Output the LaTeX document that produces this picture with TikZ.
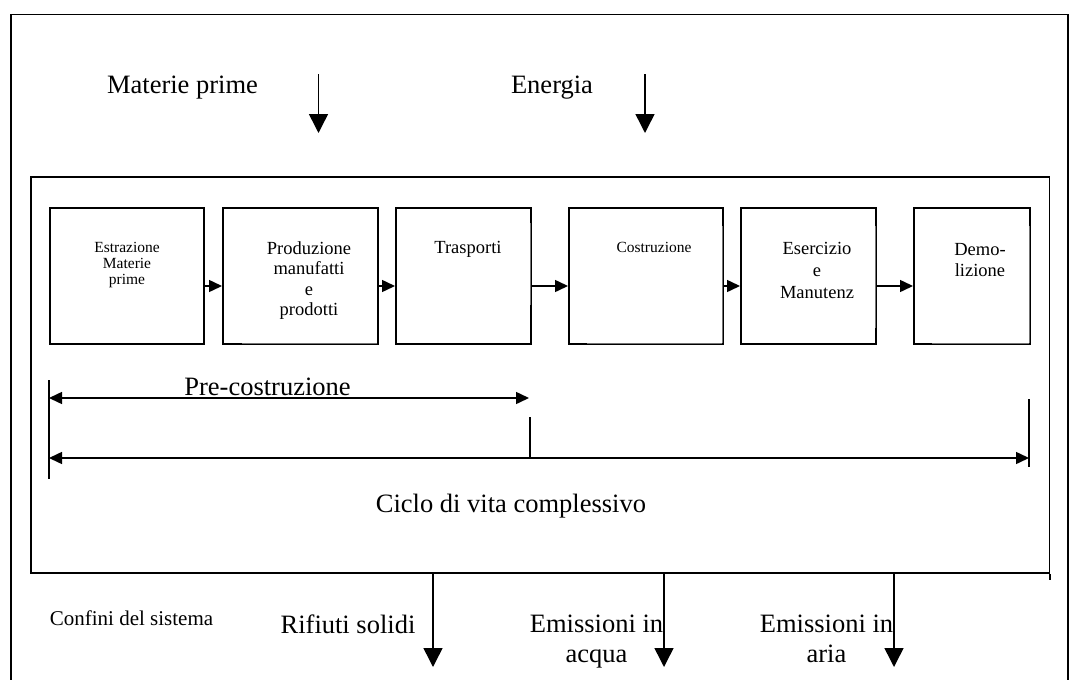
\documentclass[tikz,border=0pt]{standalone}
\usepackage{fontspec}
\setmainfont{Liberation Serif}
\usetikzlibrary{arrows.meta,calc}
\begin{document}
\begin{tikzpicture}[x=1pt,y=-1pt,
  big/.style={font=\fontsize{26.5}{30}\selectfont, inner sep=0pt, align=center},
  mid/.style={font=\fontsize{18.5}{20.5}\selectfont, inner sep=0pt, align=center, anchor=north},
  sml/.style={font=\fontsize{15.5}{16}\selectfont, inner sep=0pt, align=center, anchor=north},
  frame/.style={line width=1.8pt},
  procbox/.style={draw, line width=2pt, inner sep=0pt, anchor=north west, minimum height=136pt},
  erase/.style={draw=white, line width=2.6pt},
  faint/.style={draw=black!55, line width=0.6pt},
  flow/.style={line width=1.5pt, -{Triangle[length=13pt,width=12pt]}},
  io/.style={line width=1.5pt, -{Triangle[length=19pt,width=19pt]}},
  dim/.style={line width=1.5pt, {Triangle[length=13pt,width=12pt]}-{Triangle[length=13pt,width=12pt]}},
  tick/.style={line width=1.5pt}]
\useasboundingbox (0,0) rectangle (1069,680);

% outer frame (bottom edge lies outside the page)
\draw[frame] (11,682) -- (11,14.5) -- (1068,14.5) -- (1068,682);

% system boundary
\node[draw, frame, inner sep=0pt, anchor=north west, minimum width=1018.5pt, minimum height=396pt] (sys) at (30,176) {};
\draw[frame] (sys.south east) -- ++(0,6);

% inputs
\node[big, anchor=base] (tmat) at (182.5,93) {Materie prime};
\node[big, anchor=base] (tene) at (552,93) {Energia};
\coordinate (i1a) at (318.5,74); \coordinate (i1b) at (318.5,133);
\coordinate (i2a) at (645,74);   \coordinate (i2b) at (645,133);
\draw[io] (i1a) -- (i1b);
\draw[io] (i2a) -- (i2b);

% process boxes
\node[procbox, minimum width=154pt] (b1) at (49,207) {};
\node[procbox, minimum width=155pt] (b2) at (222,207) {};
\node[procbox, minimum width=135pt] (b3) at (395,207) {};
\node[procbox, minimum width=154pt] (b4) at (568,207) {};
\node[procbox, minimum width=135pt] (b5) at (740,207) {};
\node[procbox, minimum width=116pt] (b6) at (913,207) {};

% partly covered box borders
\foreach \a/\b in {{242,343}/{377,343}, {530,223}/{530,305}, {722,226}/{722,343}, {587,343}/{722,343},
                   {875,226}/{875,327.5}, {1029,226}/{1029,343}, {932,343}/{1029,343}} {
  \draw[erase] (\a) -- (\b);
  \draw[faint] (\a) -- (\b);
}

\node[sml] (t1) at (127,242.4) {Estrazione\\Materie\\prime};
\node[mid] (t2) at (309,241.4) {Produzione\\manufatti\\e\\prodotti};
\node[mid] (t3) at (468,241.4) {Trasporti};
\node[sml] (t4) at (654,242.4) {Costruzione};
\node[mid, font=\fontsize{18.5}{22}\selectfont] (t5) at (817,242.4) {Esercizio\\e\\Manutenz};
\node[mid, font=\fontsize{18.5}{21}\selectfont] (t6) at (980,243.4) {Demo-\\lizione};

\draw[flow] ($(b1.east)+(0,10)$) -- ($(b2.west)+(0,10)$);
\draw[flow] ($(b2.east)+(0,10)$) -- ($(b3.west)+(0,10)$);
\draw[flow] ($(b3.east)+(0,10)$) -- ($(b4.west)+(0,10)$);
\draw[flow] ($(b4.east)+(0,10)$) -- ($(b5.west)+(0,10)$);
\draw[flow] ($(b5.east)+(0,10)$) -- ($(b6.west)+(0,10)$);

% phase dimensions
\coordinate (lt1) at (49,380);  \coordinate (lt2) at (49,479);
\coordinate (mt1) at (530,417); \coordinate (mt2) at (530,458);
\coordinate (rt1) at (1029,399);\coordinate (rt2) at (1029,467);
\draw[tick] (lt1) -- (lt2);
\draw[tick] (mt1) -- (mt2);
\draw[tick] (rt1) -- (rt2);
\coordinate (pa) at (49,398); \coordinate (pb) at (529,398);
\coordinate (ca) at (49,458); \coordinate (cb) at (1029,458);
\draw[dim] (pa) -- (pb);
\draw[dim] (ca) -- (cb);
\node[big, anchor=base] (tpre) at (267.5,395) {Pre-costruzione};
\node[big, anchor=base] (tcic) at (511,512.6) {Ciclo di vita complessivo};

% outputs
\coordinate (o1) at (433,667); \coordinate (o2) at (664,667); \coordinate (o3) at (894,667);
\draw[io] (sys.south -| o1) -- (o1);
\draw[io] (sys.south -| o2) -- (o2);
\draw[io] (sys.south -| o3) -- (o3);
\node[font=\fontsize{21}{24}\selectfont, inner sep=0pt, anchor=base] (tconf) at (131.5,625) {Confini del sistema};
\node[big, anchor=base] (trif) at (348,633) {Rifiuti solidi};
\node[big, anchor=north] (tacq) at (596.5,615) {Emissioni in\\acqua};
\node[big, anchor=north] (taria) at (826.5,615) {Emissioni in\\aria};
\end{tikzpicture}
\end{document}
